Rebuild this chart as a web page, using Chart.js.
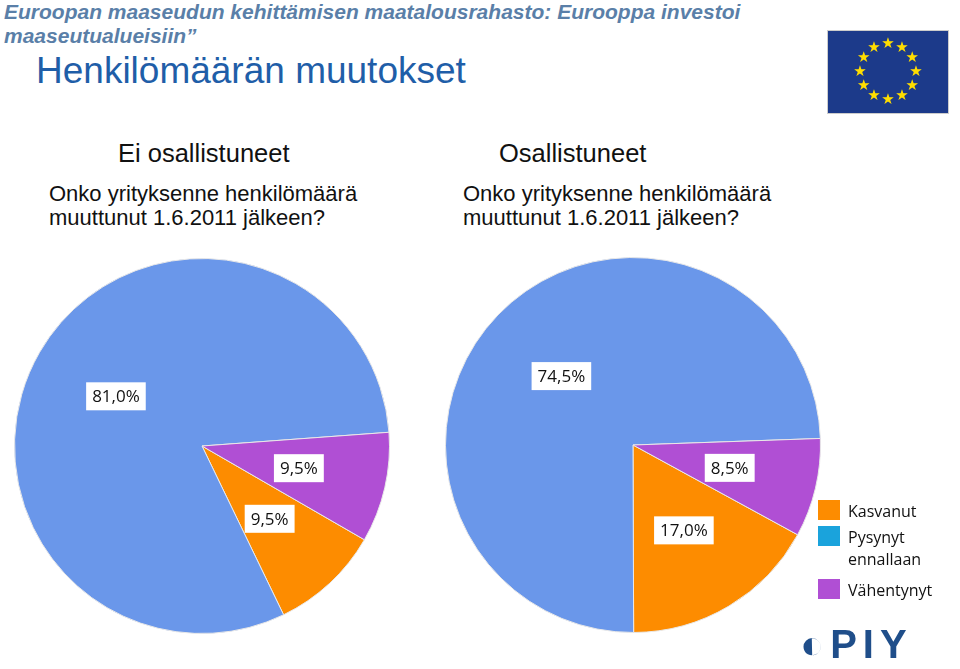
<!DOCTYPE html><html><head><meta charset="utf-8">
<script src="https://cdn.jsdelivr.net/npm/chart.js@4"></script>
<style>
body{margin:0;width:960px;height:669px;background:#fff;position:relative;overflow:hidden;font-family:"Liberation Sans",Arial,sans-serif}
.a{position:absolute;white-space:nowrap}
</style></head><body>
<div class="a" style="left:4px;top:0px;font-size:21px;font-weight:bold;font-style:italic;color:#5a7fa8;line-height:24px">Euroopan maaseudun kehittämisen maatalousrahasto: Eurooppa investoi<br>maaseutualueisiin”</div>
<div class="a" style="left:36px;top:50px;font-size:37px;color:#1f5ea8">Henkilömäärän muutokset</div>
<div class="a" style="left:827px;top:30px;width:120px;height:82px;background:#1c3a8a;border:1px solid #ccc;"><canvas id="flag" width="120" height="82"></canvas></div>
<div class="a" style="left:118px;top:139px;font-size:25.5px;color:#111">Ei osallistuneet</div>
<div class="a" style="left:49px;top:182px;font-size:22px;color:#111;line-height:24px">Onko yrityksenne henkilömäärä<br>muuttunut 1.6.2011 jälkeen?</div>
<div class="a" style="left:499px;top:139px;font-size:25.5px;color:#111">Osallistuneet</div>
<div class="a" style="left:463px;top:182px;font-size:22px;color:#111;line-height:24px">Onko yrityksenne henkilömäärä<br>muuttunut 1.6.2011 jälkeen?</div>
<div class="a" style="left:14px;top:258px;width:376px;height:376px"><canvas id="c1"></canvas></div>
<div class="a" style="left:445px;top:257px;width:376px;height:376px"><canvas id="c2"></canvas></div>
<div id="leg" class="a" style="left:818px;top:500px;font-family:'Open Sans',sans-serif;font-size:16px;color:#111;line-height:22px"></div>
<div class="a" style="left:800px;top:622px;font-size:40px;font-weight:bold;color:#1f4e8a;letter-spacing:6px">◐PIY</div>
<script>
const categories=["Kasvanut","Pysynyt ennallaan","Vähentynyt"];
const leftValues=[9.5,81.0,9.5];
const rightValues=[17.0,74.5,8.5];
const leftLabels=["9,5%","81,0%","9,5%"];
const rightLabels=["17,0%","74,5%","8,5%"];
const colors=["#fd8c00","#6a97ea","#b04fd4"];
const legendColors=["#fd8c00","#1aa3dc","#b04fd4"];

const leg=document.getElementById('leg');
const legLines=[["Kasvanut"],["Pysynyt","ennallaan"],["Vähentynyt"]];
const legTops=[0,26,79];
legLines.forEach((l,i)=>{
  const d=document.createElement('div');d.className='a';d.style.top=legTops[i]+'px';d.style.left='0px';
  d.innerHTML='<span style="display:inline-block;width:22px;height:20px;background:'+legendColors[i]+';vertical-align:top;margin-right:8px"></span><span style="display:inline-block;vertical-align:top">'+l.join('<br>')+'</span>';
  leg.appendChild(d);
});

const labelPlugin={id:'lbl',afterDatasetsDraw(ch){
  const ctx=ch.ctx, labels=ch.options.plugins.lbl.labels;
  ch.getDatasetMeta(0).data.forEach((a,i)=>{
    const mid=(a.startAngle+a.endAngle)/2, r=a.outerRadius*0.53;
    const x=a.x+Math.cos(mid)*r, y=a.y+Math.sin(mid)*r;
    ctx.save();ctx.font='17px "Open Sans", sans-serif';
    const w=ctx.measureText(labels[i]).width+12;
    ctx.fillStyle='#fff';ctx.fillRect(x-w/2,y-14,w,28);
    ctx.fillStyle='#111';ctx.textAlign='center';ctx.textBaseline='middle';
    ctx.fillText(labels[i],x,y+1);ctx.restore();
  });
}};
function mk(id,vals,labs,rot){
  new Chart(document.getElementById(id),{type:'pie',
    data:{labels:categories,datasets:[{data:vals,backgroundColor:colors,borderColor:'#e8e8e8',borderWidth:1}]},
    options:{responsive:true,maintainAspectRatio:false,animation:false,rotation:rot,
      layout:{padding:0},plugins:{legend:{display:false},tooltip:{enabled:false},lbl:{labels:labs}}},
    plugins:[labelPlugin]});
}
mk('c1',leftValues,leftLabels,120);
mk('c2',rightValues,rightLabels,118.6);

const f=document.getElementById('flag').getContext('2d');
f.fillStyle='#ffdd00';f.font='15px "DejaVu Sans"';f.textAlign='center';f.textBaseline='middle';
for(let k=0;k<12;k++){const t=k*Math.PI/6;f.fillText('★',60+Math.cos(t)*28,41+Math.sin(t)*28);}
</script></body></html>
